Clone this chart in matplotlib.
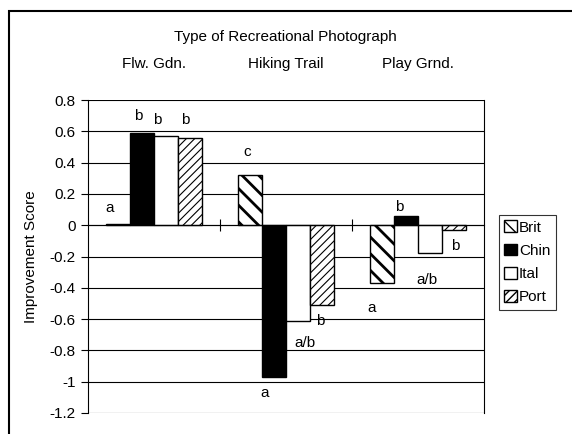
import matplotlib.pyplot as plt
import numpy as np
from matplotlib.patches import Rectangle

plt.rcParams['font.family'] = ['Liberation Sans', 'DejaVu Sans']

# Datos
tipos = ["Flw. Gdn.", "Hiking Trail", "Play Grnd."]
grupos = ["Brit", "Chin", "Ital", "Port"]
brit = [0.01, 0.32, -0.37]
chin = [0.59, -0.97, 0.06]
ital = [0.57, -0.61, -0.18]
port = [0.56, -0.51, -0.03]
valores = [brit, chin, ital, port]

# Letras de significancia (letra, x, y)
letras = [("a", -0.335, 0.11), ("b", -0.117, 0.70), ("b", 0.026, 0.67), ("b", 0.237, 0.67),
          ("c", 0.703, 0.466), ("a", 0.838, -1.07), ("a/b", 1.147, -0.75), ("b", 1.26, -0.61),
          ("a", 1.65, -0.53), ("b", 1.86, 0.115), ("a/b", 2.07, -0.35), ("b", 2.28, -0.13)]

# Estilos de cada grupo
estilos = {
    "Brit": dict(color="white", hatch="\\\\", hlw=2.0),
    "Chin": dict(color="black", hatch=None, hlw=1.0),
    "Ital": dict(color="white", hatch=None, hlw=1.0),
    "Port": dict(color="white", hatch="////", hlw=0.8),
}

fig = plt.figure(figsize=(5.72, 4.34), dpi=100)
ax = fig.add_axes([88 / 572, 1 - 413 / 434, (484 - 88) / 572, (413 - 100) / 434])

x = np.arange(len(tipos))
ancho = 1 / 5.5
for i, g in enumerate(grupos):
    est = estilos[g]
    with plt.rc_context({'hatch.linewidth': est["hlw"]}):
        barras = ax.bar(x + (i - 1.5) * ancho, valores[i], width=ancho, color=est["color"],
                        edgecolor="black", linewidth=1.0, hatch=est["hatch"], label=g, zorder=3)
    for b in barras:
        if hasattr(b, "set_hatch_linewidth"):
            b.set_hatch_linewidth(est["hlw"])

for txt, xx, yy in letras:
    ax.text(xx, yy, txt, ha="center", va="center", fontsize=11, zorder=4)

ax.set_xlim(-0.5, 2.5)
ax.set_ylim(-1.2, 0.8)
ax.set_yticks(np.arange(-1.2, 0.81, 0.2))
ax.set_yticklabels(["-1.2", "-1", "-0.8", "-0.6", "-0.4", "-0.2", "0", "0.2", "0.4", "0.6", "0.8"], fontsize=11)
ax.yaxis.grid(True, color="black", linewidth=0.8, zorder=0)
ax.set_axisbelow(True)
ax.tick_params(axis="y", direction="out", length=5, width=0.8, pad=4)

ax.spines['bottom'].set_position(('data', 0))
ax.spines['bottom'].set_zorder(5)
ax.set_xticks([0.5, 1.5])
ax.set_xticklabels([])
ax.tick_params(axis="x", direction="inout", length=8, width=0.8)
for s in ["left", "right", "top"]:
    ax.spines[s].set_linewidth(0.8)
ax.spines['top'].set_visible(False)

ax.set_ylabel("Improvement Score", fontsize=11, labelpad=8)

# Etiquetas de las categorias arriba
for i, t in enumerate(tipos):
    ax.text(i, 1.115, t, transform=ax.get_xaxis_transform(), ha="center", va="center", fontsize=11)
fig.text(285 / 572, 1 - 37 / 434, "Type of Recreational Photograph", ha="center", va="center", fontsize=11)

leg = fig.legend(loc="upper left", bbox_to_anchor=(499 / 572, 1 - 215 / 434), fontsize=11,
                 frameon=True, fancybox=False, edgecolor="black", handlelength=0.8, handleheight=0.8,
                 handletextpad=0.15, labelspacing=0.6, borderpad=0.35, borderaxespad=0)
leg.get_frame().set_linewidth(0.8)

# Marco exterior
fig.patches.append(Rectangle((9 / 572, -0.1), 1.2, 1.1 - 11 / 434, transform=fig.transFigure,
                             fill=False, edgecolor="black", linewidth=1.5))

fig.savefig("out.png", dpi=100)
